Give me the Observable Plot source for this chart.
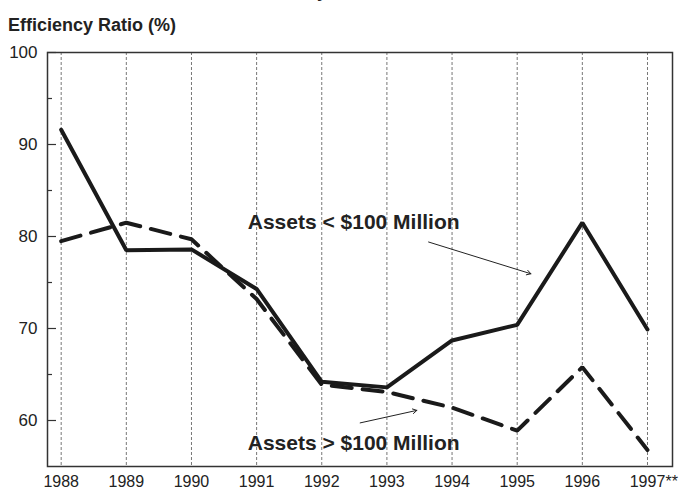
<!DOCTYPE html>
<html><head><meta charset="utf-8">
<script src="https://cdn.jsdelivr.net/npm/d3@7"></script>
<script src="https://cdn.jsdelivr.net/npm/@observablehq/plot@0.6"></script>
<style>
body{margin:0;background:#fff;font-family:"Liberation Sans",Arial,sans-serif;}
#wrap{position:relative;width:683px;height:491px;overflow:hidden;background:#fff;}
#title{position:absolute;left:247px;top:-18px;font-size:18px;font-weight:bold;line-height:18px;white-space:nowrap;color:#222;}
#ylab{position:absolute;left:8px;top:16px;font-size:18px;font-weight:bold;line-height:18px;color:#222;white-space:nowrap;}
#chart{position:absolute;left:0;top:36px;}
</style></head><body>
<div id="wrap">
  <div id="title">Banks by Asset Size, 1988–1997</div>
  <div id="ylab">Efficiency Ratio (%)</div>
  <div id="chart"></div>
</div>
<script>
const years = [1988, 1989, 1990, 1991, 1992, 1993, 1994, 1995, 1996, 1997];
const yearLabels = ["1988", "1989", "1990", "1991", "1992", "1993", "1994", "1995", "1996", "1997"];
const lastYearNote = "**";
const smallBanks = [91.6, 78.5, 78.6, 74.3, 64.2, 63.6, 68.7, 70.4, 81.5, 69.9];
const largeBanks = [79.5, 81.5, 79.7, 73.2, 63.9, 63.1, 61.4, 58.9, 65.8, 56.8];
const yTicks = [60, 70, 80, 90, 100];
const yMinorTicks = [65, 75, 85, 95];
const annotations = [
  {text: "Assets < $100 Million", x: 1992.49, y: 81.6},
  {text: "Assets > $100 Million", x: 1992.49, y: 57.5}
];
const pointers = [
  {x1: 1993.64, y1: 79.4, x2: 1995.21, y2: 75.95},
  {x1: 1992.59, y1: 59.74, x2: 1993.46, y2: 61.1}
];

const W = 683, H = 455, mL = 47, mR = 11, mT = 16, mB = 25;
const plotW = W - mL - mR;
const small = years.map((yr, i) => ({year: yr, v: smallBanks[i]}));
const large = years.map((yr, i) => ({year: yr, v: largeBanks[i]}));

const chart = Plot.plot({
  width: W, height: H,
  marginLeft: mL, marginRight: mR, marginTop: mT, marginBottom: mB,
  style: {fontFamily: "'Liberation Sans', Arial, sans-serif", fontSize: "16px", color: "#222", background: "#fff", overflow: "visible"},
  x: {type: "linear", domain: [1987.79, 1997.384], axis: null},
  y: {domain: [55, 100], axis: null},
  marks: [
    Plot.ruleX(years, {x: d => d, stroke: "#777", strokeWidth: 1, strokeDasharray: "3,2"}),
    Plot.line(large, {x: "year", y: "v", stroke: "#1a1a1a", strokeWidth: 4, strokeDasharray: "20,11", strokeLinejoin: "miter"}),
    Plot.line(small, {x: "year", y: "v", stroke: "#1a1a1a", strokeWidth: 4, strokeLinejoin: "miter"}),
    Plot.frame({stroke: "#333", strokeWidth: 1.5}),
    Plot.tickY(yTicks, {y: d => d, stroke: "#333", strokeWidth: 1.2, insetRight: plotW - 9}),
    Plot.tickY(yMinorTicks, {y: d => d, stroke: "#333", strokeWidth: 1.2, insetRight: plotW - 5}),
    Plot.axisY(yTicks, {tickSize: 0, tickPadding: 10, fontSize: 17, fill: "#222"}),
    Plot.axisX(years, {tickSize: 0, tickPadding: 9, fontSize: 16, fill: "#222",
      tickFormat: d => yearLabels[years.indexOf(d)]}),
    Plot.text([lastYearNote], {x: () => years[years.length - 1], text: d => d, frameAnchor: "bottom",
      textAnchor: "start", lineAnchor: "top", dx: 18, dy: 9, fontSize: 16, fill: "#222"}),
    Plot.arrow(pointers, {x1: "x1", y1: "y1", x2: "x2", y2: "y2", stroke: "#222", strokeWidth: 1, headLength: 7}),
    Plot.text(annotations, {x: "x", y: "y", text: "text", fontSize: 21, fontWeight: "bold", fill: "#222", lineAnchor: "middle"})
  ]
});
document.getElementById("chart").appendChild(chart);
</script>
</body></html>
